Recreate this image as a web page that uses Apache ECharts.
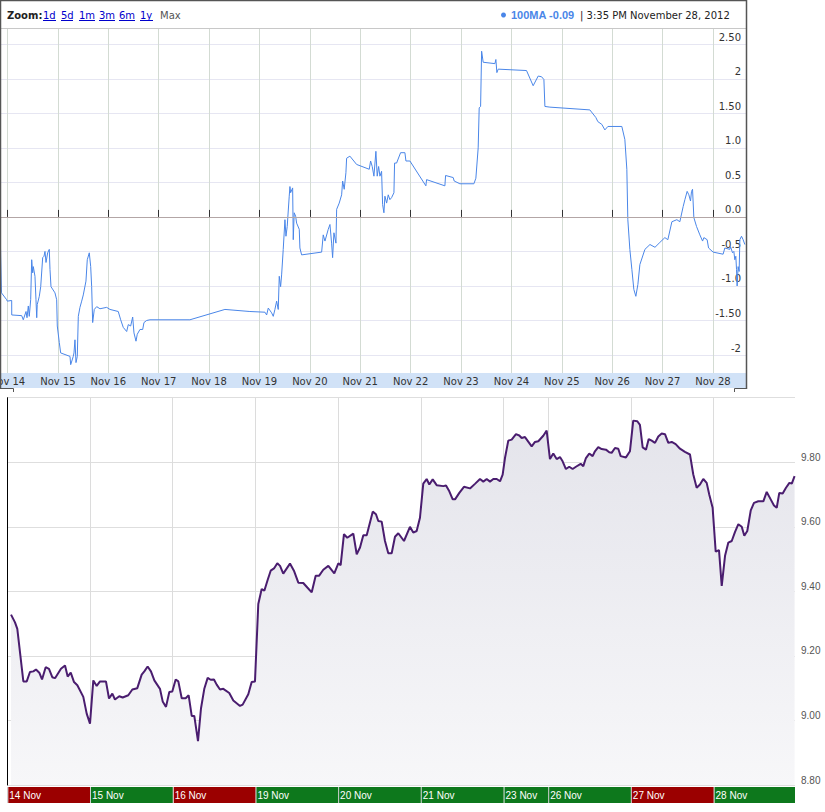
<!DOCTYPE html>
<html><head><meta charset="utf-8">
<script src="https://cdn.jsdelivr.net/npm/echarts@6/dist/echarts.min.js"></script>
<style>html,body{margin:0;padding:0;background:#fff}#c{width:825px;height:812px}</style>
</head><body><div id="c"></div>
<script>
// ---------- top chart (100MA) ----------
const topDayTicks = [14,15,16,17,18,19,20,21,22,23,24,25,26,27,28];
const topDayLabels = ['Nov 14','Nov 15','Nov 16','Nov 17','Nov 18','Nov 19','Nov 20','Nov 21','Nov 22','Nov 23','Nov 24','Nov 25','Nov 26','Nov 27','Nov 28'];
const topYTicks = [-2,-1.5,-1,-0.5,0,0.5,1,1.5,2,2.5];
const topYLabels = ['-2','-1.50','-1.0','-0.5','0.0','0.5','1.0','1.50','2','2.50'];
const ma100 = [
[13.851,-0.11],[13.88,-1.10],[13.984,-1.20],[13.996,-1.22],[14.083,-1.21],[14.084,-1.42],[14.282,-1.43],[14.313,-1.49],[14.367,-1.37],[14.387,-1.46],[14.413,-1.29],[14.432,-1.44],[14.46,-1.20],[14.48,-0.62],[14.50,-0.81],[14.512,-0.72],[14.545,-0.86],[14.565,-1.20],[14.58,-1.46],[14.59,-1.27],[14.631,-1.15],[14.659,-1.01],[14.698,-0.59],[14.724,-0.57],[14.744,-0.50],[14.764,-0.66],[14.797,-0.52],[14.829,-0.47],[14.843,-0.76],[14.863,-1.01],[14.942,-1.10],[14.976,-1.20],[14.988,-1.58],[15.028,-1.82],[15.055,-1.97],[15.24,-2.02],[15.254,-2.14],[15.305,-2.02],[15.319,-1.97],[15.339,-1.78],[15.359,-2.11],[15.385,-2.02],[15.405,-1.44],[15.438,-1.31],[15.472,-1.22],[15.504,-1.13],[15.557,-0.93],[15.583,-0.62],[15.623,-0.52],[15.651,-0.72],[15.67,-1.01],[15.69,-1.53],[15.722,-1.34],[15.77,-1.30],[15.835,-1.33],[15.968,-1.31],[16.034,-1.34],[16.198,-1.37],[16.246,-1.49],[16.297,-1.60],[16.365,-1.66],[16.397,-1.56],[16.444,-1.58],[16.484,-1.45],[16.51,-1.68],[16.55,-1.80],[16.575,-1.70],[16.629,-1.63],[16.683,-1.63],[16.708,-1.53],[16.762,-1.50],[16.827,-1.49],[17.62,-1.49],[18.315,-1.34],[18.81,-1.37],
[19.109,-1.38],[19.143,-1.42],[19.175,-1.32],[19.242,-1.39],[19.274,-1.44],[19.307,-1.34],[19.341,-1.22],[19.373,-1.34],[19.393,-0.86],[19.42,-1.01],[19.44,-0.84],[19.472,-0.47],[19.506,-0.04],[19.526,-0.28],[19.551,-0.14],[19.591,0.30],[19.605,0.44],[19.619,0.35],[19.659,0.42],[19.671,-0.33],[19.69,0.06],[19.718,0.01],[19.738,-0.09],[19.79,-0.18],[19.803,-0.45],[19.837,-0.55],[20.234,-0.51],[20.266,-0.26],[20.3,-0.35],[20.365,-0.18],[20.399,-0.11],[20.432,-0.38],[20.452,-0.59],[20.478,-0.23],[20.518,-0.38],[20.532,0.11],[20.583,0.20],[20.631,0.32],[20.651,0.52],[20.682,0.40],[20.716,0.64],[20.73,0.85],[20.795,0.88],[20.928,0.76],[21.179,0.69],[21.206,0.81],[21.238,0.73],[21.272,0.59],[21.311,0.95],[21.337,0.59],[21.365,0.73],[21.391,0.59],[21.424,0.66],[21.444,0.18],[21.47,0.06],[21.49,0.30],[21.524,0.20],[21.556,0.32],[21.589,0.25],[21.623,0.28],[21.669,0.35],[21.682,0.78],[21.722,0.78],[21.801,0.93],[21.887,0.93],[21.907,0.81],[21.986,0.81],[22.303,0.45],[22.317,0.54],[22.68,0.45],[22.694,0.60],[22.845,0.57],[22.865,0.52],[22.978,0.48],[23.256,0.48],[23.295,0.56],[23.341,1.00],[23.361,1.58],[23.389,1.60],[23.409,2.40],[23.44,2.24],[23.673,2.22],[23.692,2.28],[23.712,2.09],[23.738,2.14],[24.3,2.12],[24.432,1.90],[24.532,2.04],[24.599,2.03],[24.645,1.99],[24.665,1.60],[24.764,1.59],[25.557,1.55],[25.676,1.44],[25.716,1.38],[25.795,1.34],[25.855,1.26],[25.915,1.31],[26.192,1.31],[26.252,1.12],[26.291,0.69],[26.311,-0.04],[26.351,-0.47],[26.391,-0.76],[26.43,-1.05],[26.47,-1.15],[26.51,-0.98],[26.55,-0.69],[26.65,-0.47],[26.75,-0.40],[26.85,-0.44],[26.946,-0.37],[27.046,-0.30],[27.105,-0.33],[27.185,-0.07],[27.284,-0.04],[27.343,-0.07],[27.409,0.15],[27.443,0.25],[27.488,0.37],[27.522,0.32],[27.555,0.23],[27.575,0.37],[27.595,0.40],[27.621,-0.01],[27.675,-0.14],[27.74,-0.26],[27.794,-0.35],[27.82,-0.30],[27.885,-0.33],[27.913,-0.45],[28.004,-0.51],[28.202,-0.54],[28.236,-0.45],[28.335,-0.47],[28.349,-0.43],[28.389,-0.52],[28.415,-0.50],[28.434,-0.62],[28.454,-0.57],[28.468,-0.76],[28.48,-1.00],[28.5,-0.72],[28.52,-0.79],[28.534,-0.33],[28.567,-0.28],[28.599,-0.33],[28.633,-0.40]
];

// ---------- bottom chart (price) ----------
const sessionLabels = ['14 Nov','15 Nov','16 Nov','19 Nov','20 Nov','21 Nov','23 Nov','26 Nov','27 Nov','28 Nov'];
const sessionStart = [0,1,2,3,4,5,6,6.54,7.54,8.54];
const sessionEnd = [1,2,3,4,5,6,6.54,7.54,8.54,9.525];
const sessionUp = [0,1,0,1,1,1,1,1,0,1];
const priceMin = 8.8, priceMax = 10.0, priceStep = 0.2;
const price = [
[0.045,9.328],[0.093,9.304],[0.121,9.284],[0.194,9.121],[0.235,9.121],[0.274,9.150],[0.315,9.152],[0.347,9.158],[0.387,9.148],[0.42,9.127],[0.464,9.165],[0.504,9.160],[0.544,9.134],[0.577,9.131],[0.649,9.160],[0.698,9.170],[0.73,9.136],[0.767,9.148],[0.807,9.119],[0.847,9.109],[0.919,9.073],[0.96,9.021],[1.0,8.99],
[1.04,9.124],[1.081,9.107],[1.121,9.121],[1.193,9.121],[1.23,9.068],[1.27,9.083],[1.302,9.065],[1.354,9.075],[1.395,9.071],[1.463,9.078],[1.512,9.096],[1.572,9.10],[1.625,9.142],[1.657,9.152],[1.697,9.167],[1.737,9.152],[1.778,9.124],[1.846,9.098],[1.879,9.059],[1.919,9.042],[1.959,9.088],[1.995,9.090],
[2.036,9.127],[2.068,9.121],[2.109,9.069],[2.157,9.069],[2.193,9.078],[2.23,9.014],[2.261,9.014],[2.306,8.936],[2.342,9.037],[2.382,9.098],[2.423,9.132],[2.459,9.126],[2.499,9.127],[2.532,9.111],[2.572,9.096],[2.612,9.098],[2.684,9.085],[2.733,9.062],[2.814,9.045],[2.846,9.049],[2.914,9.081],[2.955,9.119],[2.995,9.121],
[3.035,9.361],[3.076,9.407],[3.108,9.402],[3.149,9.436],[3.185,9.464],[3.225,9.471],[3.265,9.487],[3.298,9.479],[3.337,9.455],[3.418,9.486],[3.466,9.464],[3.519,9.427],[3.579,9.426],[3.628,9.412],[3.681,9.397],[3.729,9.448],[3.769,9.448],[3.821,9.467],[3.882,9.479],[3.954,9.456],
[4.003,9.487],[4.031,9.481],[4.071,9.577],[4.111,9.566],[4.184,9.579],[4.225,9.515],[4.265,9.536],[4.305,9.574],[4.346,9.574],[4.419,9.647],[4.458,9.639],[4.486,9.618],[4.527,9.616],[4.567,9.556],[4.607,9.518],[4.648,9.518],[4.688,9.569],[4.728,9.580],[4.797,9.556],[4.869,9.60],[4.909,9.582],[4.95,9.587],[4.99,9.628],
[5.03,9.734],[5.071,9.748],[5.103,9.731],[5.144,9.747],[5.192,9.729],[5.273,9.726],[5.305,9.728],[5.345,9.710],[5.386,9.685],[5.414,9.685],[5.466,9.705],[5.522,9.724],[5.595,9.719],[5.655,9.733],[5.716,9.748],[5.756,9.740],[5.797,9.748],[5.837,9.740],[5.877,9.748],[5.918,9.748],[5.958,9.741],[5.99,9.762],
[6.018,9.813],[6.058,9.867],[6.099,9.870],[6.151,9.887],[6.191,9.883],[6.22,9.875],[6.26,9.878],[6.341,9.849],[6.381,9.863],[6.421,9.865],[6.481,9.882],[6.522,9.898],
[6.562,9.810],[6.602,9.827],[6.643,9.810],[6.683,9.816],[6.715,9.803],[6.755,9.779],[6.795,9.786],[6.836,9.779],[6.876,9.786],[6.933,9.795],[6.965,9.788],[6.997,9.813],[7.037,9.827],[7.078,9.819],[7.106,9.834],[7.146,9.847],[7.187,9.841],[7.239,9.839],[7.279,9.831],[7.308,9.829],[7.348,9.844],[7.388,9.842],[7.417,9.819],[7.481,9.815],[7.529,9.834],
[7.569,9.929],[7.618,9.927],[7.65,9.916],[7.683,9.846],[7.723,9.839],[7.756,9.872],[7.792,9.867],[7.832,9.860],[7.872,9.880],[7.913,9.889],[7.953,9.887],[7.993,9.860],[8.034,9.863],[8.082,9.856],[8.134,9.842],[8.194,9.832],[8.255,9.824],[8.295,9.762],[8.336,9.721],[8.376,9.731],[8.416,9.748],[8.457,9.736],[8.488,9.700],[8.529,9.659],
[8.566,9.523],[8.606,9.528],[8.639,9.417],[8.679,9.510],[8.719,9.551],[8.76,9.556],[8.8,9.584],[8.84,9.608],[8.881,9.600],[8.912,9.572],[8.948,9.587],[8.99,9.651],[9.029,9.674],[9.081,9.679],[9.142,9.679],[9.183,9.708],[9.231,9.685],[9.271,9.666],[9.304,9.659],[9.335,9.705],[9.376,9.703],[9.416,9.721],[9.457,9.736],[9.486,9.734],[9.52,9.757]
];

const chart = echarts.init(document.getElementById('c'), null, {renderer: 'svg'});
const VER = '"DejaVu Sans", Verdana, sans-serif';
const ARI = '"Liberation Sans", Arial, sans-serif';

function nearestLabel(ticks, labels, v) {
  let bi = 0, bd = Infinity;
  ticks.forEach((t, i) => { const d = Math.abs(t - v); if (d < bd) { bd = d; bi = i; } });
  return labels[bi];
}

const links = [['1d',43,13],['5d',61,12],['1m',79,16],['3m',99,16],['6m',119,16],['1y',140,13]];
const graphics = [
  {type:'rect', z:-10, shape:{x:0, y:373, width:746, height:15}, style:{fill:'#d1e2f7'}},
  {type:'line', z:50, shape:{x1:0, y1:28.5, x2:746, y2:28.5}, style:{stroke:'#c8c8c8', lineWidth:1}},
  {type:'line', z:50, shape:{x1:0.5, y1:0, x2:0.5, y2:389}, style:{stroke:'#555', lineWidth:1.5}},
  {type:'line', z:50, shape:{x1:0, y1:0.5, x2:747, y2:0.5}, style:{stroke:'#555', lineWidth:1.5}},
  {type:'line', z:50, shape:{x1:746.5, y1:0, x2:746.5, y2:389}, style:{stroke:'#555', lineWidth:1.5}},
  {type:'polyline', z:50, shape:{points:[[0,388.5],[13.5,388.5],[13.5,392]]}, style:{stroke:'#555', lineWidth:1, fill:null}},
  {type:'polyline', z:50, shape:{points:[[746,388.5],[734.5,388.5],[734.5,392]]}, style:{stroke:'#555', lineWidth:1, fill:null}},
  {type:'text', z:50, style:{x:7, y:15, text:'Zoom:', font:'bold 10px ' + VER, fill:'#222', verticalAlign:'middle'}},
  {type:'text', z:50, style:{x:160, y:15, text:'Max', font:'10px ' + VER, fill:'#555', verticalAlign:'middle'}},
  {type:'circle', z:50, shape:{cx:503.5, cy:15, r:2.5}, style:{fill:'#4a86e8'}},
  {type:'text', z:50, style:{x:511, y:15, text:'100MA -0.09', font:'bold 11px ' + ARI, fill:'#4a86e8', verticalAlign:'middle'}},
  {type:'text', z:50, style:{x:580, y:15, text:'| 3:35 PM November 28, 2012', font:'10px ' + VER, fill:'#222', verticalAlign:'middle'}}
];
links.forEach(l => {
  graphics.push({type:'text', z:50, style:{x:l[1], y:15, text:l[0], font:'10px ' + VER, fill:'#0000cc', verticalAlign:'middle'}});
  graphics.push({type:'line', z:50, shape:{x1:l[1], y1:20.5, x2:l[1] + l[2], y2:20.5}, style:{stroke:'#0000cc', lineWidth:1}});
});

chart.setOption({
  animation: false,
  backgroundColor: '#fff',
  graphic: graphics,
  grid: [
    {left:0, right:79, top:29, bottom:439, containLabel:false, outerBoundsMode:'none'},
    {left:7.3, right:30, top:397.7, bottom:27, containLabel:false, outerBoundsMode:'none'},
    {left:7.3, right:30, top:787, height:16, containLabel:false, outerBoundsMode:'none'}
  ],
  xAxis: [
    {type:'value', gridIndex:0, min:13.851, max:28.656, position:'bottom',
     axisLine:{show:false},
     axisTick:{show:true, inside:true, length:7, customValues: topDayTicks, lineStyle:{color:'#333'}},
     axisLabel:{customValues: topDayTicks, margin:3, color:'#333', fontSize:10, fontFamily:VER,
       formatter: v => nearestLabel(topDayTicks, topDayLabels, v)},
     splitLine:{show:true, lineStyle:{color:'#d3dbd3', width:1}}},
    {type:'value', gridIndex:1, min:0, max:9.525,
     axisLine:{show:false}, axisLabel:{show:false},
     axisTick:{show:false, customValues: sessionStart},
     splitLine:{show:true, lineStyle:{color:'#dcdcdc', width:1}}},
    {type:'value', gridIndex:2, min:0, max:9.525,
     axisLine:{show:false}, axisLabel:{show:false},
     axisTick:{show:false, customValues: sessionStart},
     splitLine:{show:true, lineStyle:{color:'#cfcfcf', width:1}}}
  ],
  yAxis: [
    {type:'value', gridIndex:0, min:-2.2607, max:2.7216, position:'right',
     axisLine:{show:false}, axisTick:{show:false, customValues: topYTicks},
     axisLabel:{customValues: topYTicks, inside:true, margin:5, color:'#333', fontSize:10, fontFamily:VER,
       verticalAlign:'bottom', padding:[0,0,2,0],
       formatter: v => nearestLabel(topYTicks, topYLabels, v)},
     splitLine:{show:true, lineStyle:{color:'#e6e6f2', width:1}}},
    {type:'value', gridIndex:1, min:priceMin, max:priceMax, interval:priceStep, position:'right',
     axisLine:{show:true, lineStyle:{color:'#000', width:1}}, axisTick:{show:false},
     axisLabel:{show:true, margin:6, color:'#555', fontSize:10, fontFamily:ARI, verticalAlign:'bottom',
       showMaxLabel:false, formatter: v => v.toFixed(2)},
     splitLine:{show:true, lineStyle:{color:'#dedede', width:1}}},
    {type:'value', gridIndex:2, min:0, max:1, show:false}
  ],
  series: [
    {type:'line', xAxisIndex:0, yAxisIndex:0, data: ma100, showSymbol:false, symbol:'none',
     lineStyle:{color:'#4a86e8', width:1}, z:3,
     markLine:{silent:true, symbol:['none','none'], label:{show:false},
       lineStyle:{color:'#b3a6a6', width:1, type:'solid'}, data:[{yAxis:0}]}},
    {type:'line', xAxisIndex:1, yAxisIndex:1, data: price, showSymbol:false, symbol:'none',
     lineStyle:{color:'#4a1d6f', width:2},
     areaStyle:{color: new echarts.graphic.LinearGradient(0,0,0,1,[{offset:0,color:'#e4e4eb'},{offset:1,color:'#f7f7f9'}]), opacity:1}},
    {type:'custom', xAxisIndex:2, yAxisIndex:2, clip:false,
     data: sessionLabels.map((n, i) => ({name:n, value:[sessionStart[i], sessionEnd[i], sessionUp[i]]})),
     renderItem: function (params, api) {
       const i = params.dataIndex;
       const p0 = api.coord([api.value(0), 0]);
       const p1 = api.coord([api.value(1), 1]);
       return {type:'group', children:[
         {type:'rect', shape:{x:p0[0] + 1, y:p1[1], width:p1[0] - p0[0] - 1, height:p0[1] - p1[1]},
          style:{fill: api.value(2) ? '#0d781c' : '#9b0000'}},
         {type:'text', style:{x:p0[0] + 2, y:(p0[1] + p1[1]) / 2 + 0.5, text: sessionLabels[i], fill:'#fff',
          font:'10px ' + ARI, verticalAlign:'middle', align:'left'}}
       ]};
     }}
  ]
});
</script>
</body></html>
